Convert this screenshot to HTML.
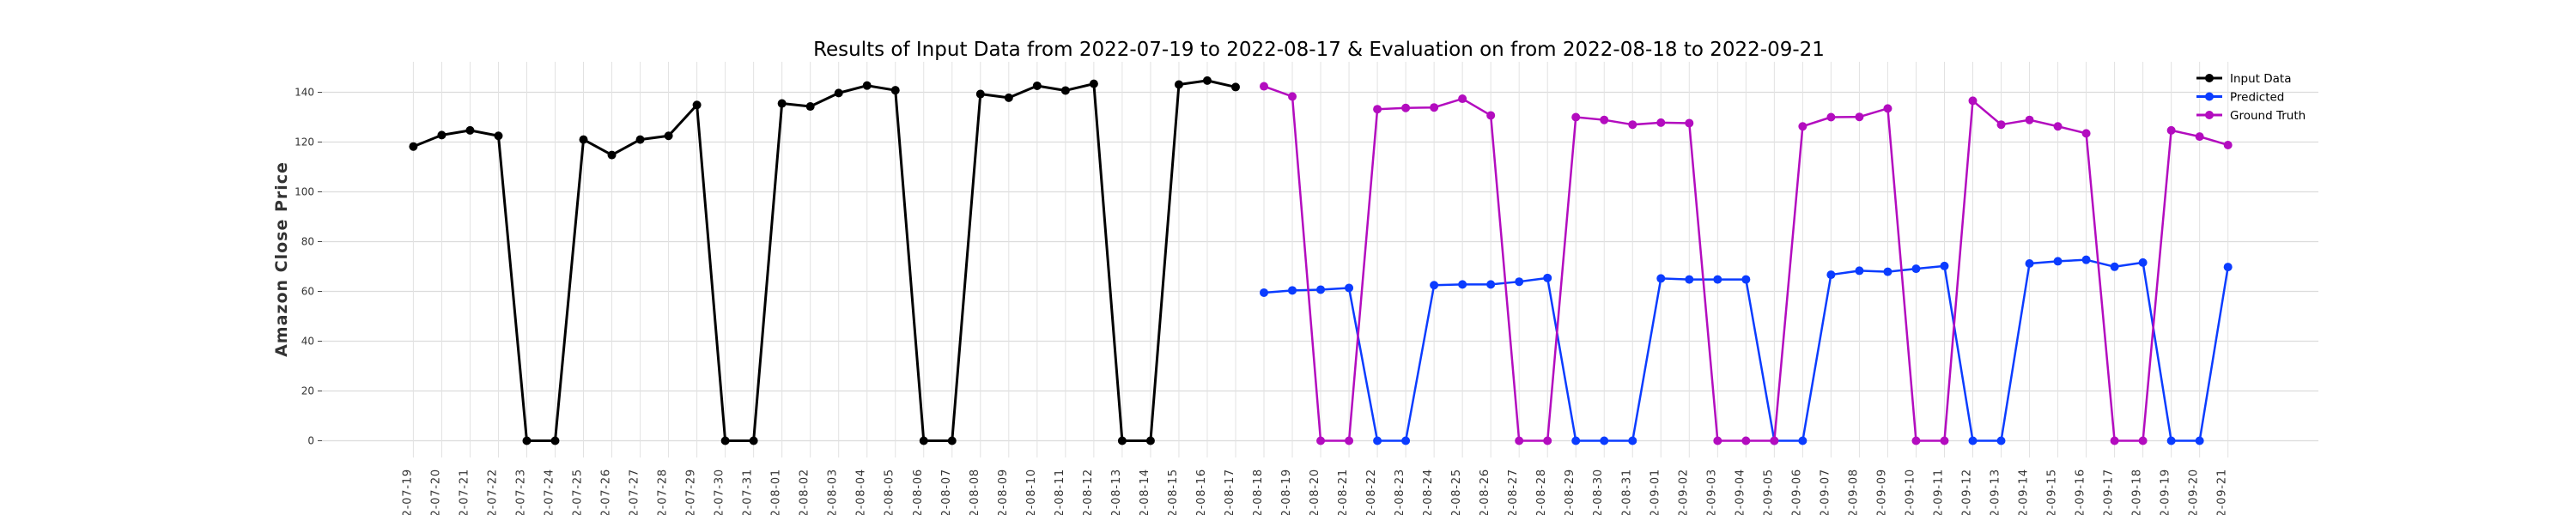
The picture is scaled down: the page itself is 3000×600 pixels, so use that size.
<!DOCTYPE html>
<html><head><meta charset="utf-8"><style>
html,body{margin:0;padding:0;background:#fff;width:3000px;height:600px;overflow:hidden}
svg text{font-family:"DejaVu Sans","Liberation Sans",sans-serif}
</style></head><body>
<svg id="chart" width="3000" height="600" xmlns="http://www.w3.org/2000/svg">
<g id="grid"></g><g id="axes"></g><g id="series"></g><g id="legend"></g>
</svg>
<script>
const dates = [];
(function(){let d=new Date(Date.UTC(2022,6,19));for(let i=0;i<65;i++){dates.push(d.toISOString().slice(0,10));d.setUTCDate(d.getUTCDate()+1);}})();
const inputValues = [118.2,122.8,124.7,122.5,0,0,121.0,114.8,121.0,122.5,134.9,0,0,135.5,134.3,139.7,142.7,140.8,0,0,139.3,137.8,142.6,140.7,143.4,0,0,143.1,144.7,142.1];
const predictedValues = [59.5,60.4,60.7,61.4,0,0,62.5,62.8,62.8,63.9,65.4,0,0,0,65.2,64.8,64.8,64.8,0,0,66.7,68.3,67.9,69.1,70.2,0,0,71.2,72.1,72.7,69.9,71.6,0,0,69.8];
const truthValues = [142.4,138.3,0,0,133.2,133.7,133.9,137.4,130.7,0,0,130.0,128.9,127.0,127.8,127.6,0,0,0,126.3,130.0,130.1,133.5,0,0,136.6,127.0,128.9,126.3,123.5,0,0,124.7,122.2,118.8];
const yTicks = [0,20,40,60,80,100,120,140];
const NS='http://www.w3.org/2000/svg';
function x(i){return 481.4+i*33.02;}
function y(v){return 513.5-v*2.9;}
function el(tag,attrs,parent,text){const e=document.createElementNS(NS,tag);for(const k in attrs)e.setAttribute(k,attrs[k]);if(text!==undefined)e.textContent=text;parent.appendChild(e);return e;}
const grid=document.getElementById('grid'),axes=document.getElementById('axes'),series=document.getElementById('series'),legend=document.getElementById('legend'),svg=document.getElementById('chart');
yTicks.forEach(t=>{
  const l=el('line',{x1:375,x2:2700,y1:y(t),y2:y(t),stroke:'#dcdcdc','stroke-width':1.2},grid);
  
  
  el('line',{x1:370,x2:375,y1:y(t),y2:y(t),stroke:'#444','stroke-width':1},axes);
  const tx=el('text',{x:366,y:y(t)+4,'text-anchor':'end','font-size':12,fill:'#333'},axes,String(t));
  
  
});
dates.forEach((d,i)=>{
  const l=el('line',{x1:x(i),x2:x(i),y1:72,y2:533,stroke:'#e2e2e2','stroke-width':1},grid);
  
  
  const t=el('text',{x:0,y:0,'text-anchor':'end','font-size':13,'letter-spacing':'0.8',fill:'#333',transform:`translate(${x(i)-3},546) rotate(-90)`},axes,d);
  
  
});
const title=el('text',{x:1536,y:65,'text-anchor':'middle','font-size':23,fill:'#000'},svg,'Results of Input Data from 2022-07-19 to 2022-08-17 & Evaluation on from 2022-08-18 to 2022-09-21');


const yl=el('text',{x:0,y:0,'text-anchor':'middle','font-size':19,'font-weight':'bold',fill:'#333',transform:'translate(334,302) rotate(-90)','letter-spacing':'1'},svg,'Amazon Close Price');


function drawSeries(vals,offset,color,w,name){
  const g=el('g',{},series);
  
  
  const pts=vals.map((v,i)=>x(i+offset)+','+y(v)).join(' ');
  el('polyline',{points:pts,fill:'none',stroke:color,'stroke-width':w,'stroke-linejoin':'round'},g);
  vals.forEach((v,i)=>{
    const c=el('circle',{cx:x(i+offset),cy:y(v),r:5,fill:color},g);
    
    
  });
}
drawSeries(inputValues,0,'#000',3,'input-data-series');
drawSeries(predictedValues,30,'#0b3cff',2.5,'predicted-series');
drawSeries(truthValues,30,'#b30cbf',2.5,'ground-truth-series');
[['Input Data','#000'],['Predicted','#0b3cff'],['Ground Truth','#b30cbf']].forEach((e,i)=>{
  const g=el('g',{},legend);
  
  
  const yy=91+i*21.5;
  el('line',{x1:2558,x2:2588,y1:yy,y2:yy,stroke:e[1],'stroke-width':3},g);
  el('circle',{cx:2573,cy:yy,r:5,fill:e[1]},g);
  el('text',{x:2597,y:yy+5,'font-size':13.5,fill:'#000'},g,e[0]);
});
</script>
</body></html>
